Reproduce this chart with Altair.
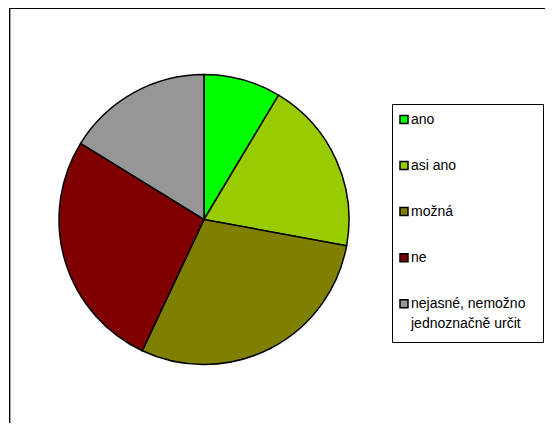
import altair as alt
import pandas as pd

categories = ["ano", "asi ano", "možná", "ne", "nejasné, nemožno jednoznačně určit"]
legend_labels = ["ano", "asi ano", "možná", "ne", "nejasné, nemožno\n\u00a0\u00a0jednoznačně určit"]
values = [8.6, 19.3, 29.1, 26.8, 16.2]
colors = ["#00FF00", "#99CC00", "#808000", "#800000", "#969696"]
order_idx = [0, 1, 2, 3, 4]

df = pd.DataFrame({
    "kategorie": categories,
    "label": legend_labels,
    "hodnota": values,
    "poradi": order_idx,
})

W, H = 536, 418
color_scale = alt.Scale(domain=categories, range=colors)
one = pd.DataFrame({"a": [0]})

left_border = alt.Chart(one).mark_rule(color="black", strokeWidth=1).encode(
    x=alt.value(0.5), y=alt.value(3), y2=alt.value(H))
left_shadow = alt.Chart(one).mark_rule(color="#a0a0a0", strokeWidth=1).encode(
    x=alt.value(1.5), y=alt.value(4), y2=alt.value(H))
top_border = alt.Chart(one).mark_rule(color="black", strokeWidth=1).encode(
    y=alt.value(3.5), x=alt.value(0), x2=alt.value(W))

pie = alt.Chart(df).mark_arc(radius=145, stroke="black", strokeWidth=1.5).encode(
    theta=alt.Theta("hodnota:Q", stack=True),
    color=alt.Color("kategorie:N", scale=color_scale, legend=None),
    order=alt.Order("poradi:Q"),
    x=alt.value(195),
    y=alt.value(214.5),
)

box = alt.Chart(one).mark_rect(
    fill="white", stroke="black", strokeWidth=1
).encode(x=alt.value(383.5), x2=alt.value(534.5), y=alt.value(99.5), y2=alt.value(337.5))

ypos = alt.Y("poradi:Q", scale=alt.Scale(domain=[0, 4], range=[114.5, 298.7]), axis=None)

swatch = alt.Chart(df).mark_square(size=64, stroke="black", strokeWidth=1.5, opacity=1).encode(
    x=alt.value(395),
    y=ypos,
    color=alt.Color("kategorie:N", scale=color_scale, legend=None),
)

txt = alt.Chart(df).mark_text(
    align="left", baseline="middle", fontSize=14, font="Liberation Sans",
    lineBreak="\n", lineHeight=20, color="black"
).encode(x=alt.value(402), y=ypos, text="label:N")

chart = alt.layer(left_border, left_shadow, top_border, box, pie, swatch, txt).properties(
    width=W, height=H,
    padding={"left": 1, "top": -3, "right": 0, "bottom": 0},
    autosize="none",
).configure_view(stroke=None)

chart.save("out.html", embed_options={"renderer": "svg", "actions": False})
